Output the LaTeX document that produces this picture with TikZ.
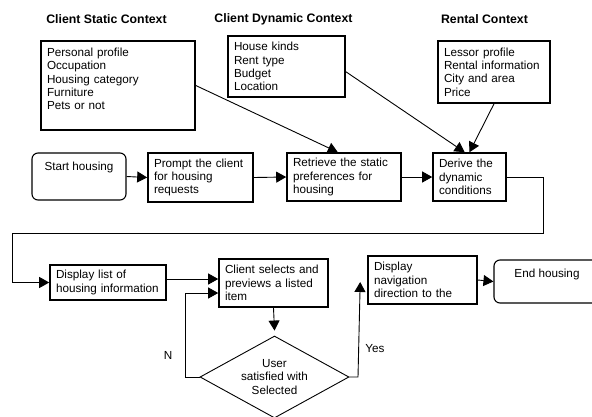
\documentclass[tikz,border=0pt]{standalone}
\usepackage{fontspec}
\setmainfont{Liberation Sans}
\usetikzlibrary{calc,shapes.geometric,arrows.meta}

\tikzset{
  box/.style={draw, line width=1.6pt, align=left, inner xsep=6pt, inner ysep=2pt,
    font=\fontsize{11.7}{13.3}\selectfont},
  term/.style={draw, line width=1.1pt, rounded corners=6pt, inner xsep=2pt, inner ysep=2pt,
    text height=15pt, font=\fontsize{11.7}{13.3}\selectfont},
  decide/.style={draw, diamond, line width=0.9pt, aspect=1.8, inner sep=0pt, align=center,
    font=\fontsize{11.7}{13.3}\selectfont},
  title/.style={font=\fontsize{12.3}{14}\selectfont\bfseries},
  flow/.style={line width=0.9pt, -{Triangle[length=10pt,width=11pt]}},
  tag/.style={font=\fontsize{11.7}{13.3}\selectfont}
}

\begin{document}
\begin{tikzpicture}[x=1pt, y=-1pt]
  \clip (0,0) rectangle (592,416);

  % Context headings
  \node[title] (tstat) at (106.5,19) {Client Static Context};
  \node[title] (tdyn)  at (283.5,19) {Client Dynamic Context};
  \node[title] (trent) at (484.5,19) {Rental Context};

  % Context boxes
  \node[box, text width=142pt, minimum height=89pt] (stat) at (118,85.5)
    {Personal profile\\Occupation\\Housing category\\Furniture\\Pets or not\\\mbox{}};
  \node[box, text width=105pt, minimum height=61pt] (dyn) at (286.5,66.5)
    {House kinds\\Rent type\\Budget\\Location};
  \node[box, text width=100pt, minimum height=62pt] (rent) at (494,72)
    {Lessor profile\\Rental information\\City and area\\Price};

  % First row
  \node[term, text depth=28pt, minimum width=94pt] (start) at (79,176.5)
    {Start housing};
  \node[box, text width=93pt, minimum height=49pt] (prompt) at (200.5,177.5)
    {Prompt the client\\for housing\\requests};
  \node[box, text width=102pt, minimum height=48pt] (ret) at (344,177)
    {Retrieve the static\\preferences for\\housing};
  \node[box, text width=61pt, minimum height=48pt] (der) at (469.5,177)
    {Derive the\\dynamic\\conditions};

  % Second row
  \node[box, text width=104pt, minimum height=35pt] (disp) at (108,282.5)
    {Display list of\\housing information};
  \node[box, text width=97pt, minimum height=48pt] (sel) at (273.5,283)
    {Client selects and\\previews a listed\\item};
  \node[decide, minimum width=149pt, minimum height=82pt] (dia) at (274.5,377)
    {User\\satisfied with\\Selected};
  \node[box, text width=97pt, minimum height=48pt] (nav) at (422.5,280)
    {Display\\navigation\\direction to the};
  \node[term, text depth=24pt, minimum width=106pt] (endh) at (547,281.5)
    {End housing};

  \node[tag] (no)  at (168,355) {N};
  \node[tag] (yes) at (375,349) {Yes};

  % Context inputs
  \draw[flow] (stat.east) -- (ret.104);
  \draw[flow] (dyn.-5) -- (der.101);
  \draw[flow] (rent.south) -- (der.north);

  % Main flow
  \draw[flow] (start.east) -- (prompt.west);
  \draw[flow] (prompt.east) -- (ret.west);
  \draw[flow] (ret.east) -- (der.west);

  % Wrap round to the second row
  \coordinate (wrapr) at (543,233);
  \coordinate (wrapl) at (12,233);
  \draw[flow] (der.east) -| (wrapr) -- (wrapl) |- (disp.west);

  \coordinate (in1) at ($(sel.west)+(0,-4)$);
  \coordinate (in2) at ($(sel.west)+(0,10)$);
  \draw[flow] (disp.east |- in1) -- (in1);
  \draw[flow] (sel.south) -- ($(dia.north)+(0,-5)$);

  % No: back to selection
  \coordinate (back) at (185,377);
  \draw[flow] (dia.west) -- (back) |- (in2);

  % Yes: go to navigation
  \coordinate (yesturn) at (358,377);
  \draw[flow] (dia.east) -- (yesturn) -- ($(nav.west)+(-7,2)$);

  \draw[flow] (nav.east) -- (endh.west);
\end{tikzpicture}
\end{document}
